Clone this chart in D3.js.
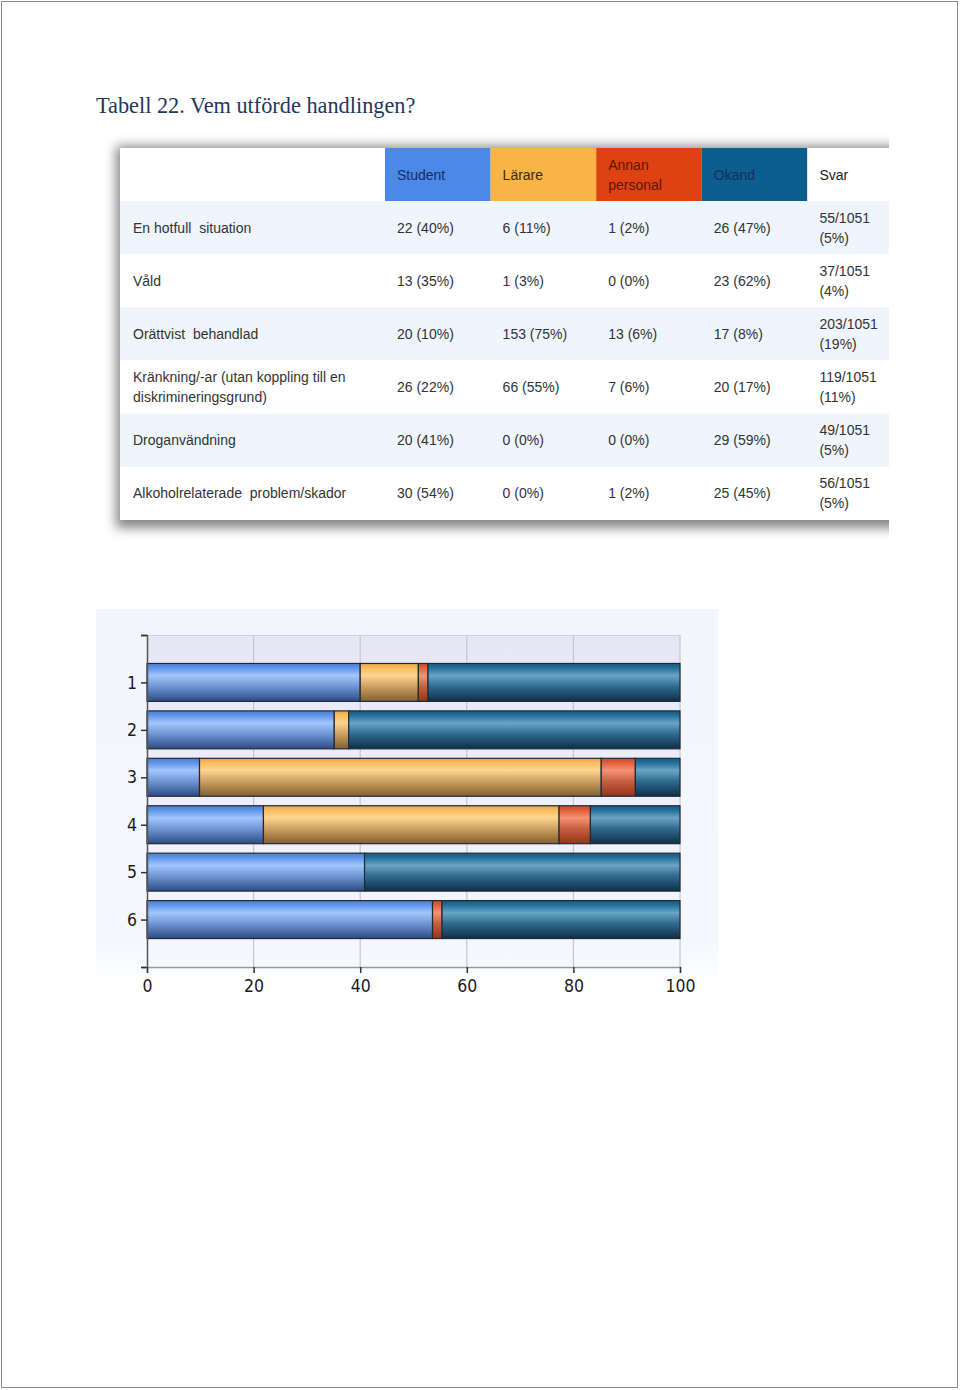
<!DOCTYPE html>
<html><head><meta charset="utf-8">
<script src="https://cdn.jsdelivr.net/npm/d3@7"></script>
<style>html,body{margin:0;padding:0;background:#fff}</style>
</head><body>
<script>
// ---- data ----
const categories = ["En hotfull  situation","Våld","Orättvist  behandlad",
  "Kränkning/-ar (utan koppling till en|diskrimineringsgrund)","Droganvändning","Alkoholrelaterade  problem/skador"];
const chartLabels = ["1","2","3","4","5","6"];
const seriesNames = ["Student","Lärare","Annan personal","Okand"];
const studentCounts = [22,13,20,26,20,30];
const studentPct    = [40,35,10,22,41,54];
const lararCounts   = [6,1,153,66,0,0];
const lararPct      = [11,3,75,55,0,0];
const annanCounts   = [1,0,13,7,0,1];
const annanPct      = [2,0,6,6,0,2];
const okandCounts   = [26,23,17,20,29,25];
const okandPct      = [47,62,8,17,59,45];
const svarCounts    = ["55/1051","37/1051","203/1051","119/1051","49/1051","56/1051"];
const svarPct       = [5,4,19,11,5,5];
const xTicks = [0,20,40,60,80,100];

const W=960,H=1390;
const svg=d3.select("body").append("svg").attr("width",W).attr("height",H);
const defs=svg.append("defs");
svg.append("rect").attr("width",W).attr("height",H).attr("fill","#fff");
svg.append("rect").attr("x",1.5).attr("y",1.5).attr("width",956).attr("height",1386)
  .attr("fill","none").attr("stroke","#8a8a8a").attr("stroke-width",1);

// title
svg.append("text").attr("x",96).attr("y",113).text("Tabell 22. Vem utförde handlingen?")
  .attr("font-family","Liberation Serif, DejaVu Serif, serif").attr("font-size",22.3).attr("fill","#22385a");

// ---- table ----
const colKeys=["Student","Lärare","Annan personal","Okand","Svar"];
const colX=d3.scaleBand().domain(colKeys).range([385,913]);
const rowY=d3.scaleBand().domain(d3.range(6)).range([201,520]);
const tLeft=120,tRight=889,tTop=148,tBot=520;
defs.append("clipPath").attr("id","tclip").append("rect").attr("x",0).attr("y",0).attr("width",tRight).attr("height",600);
defs.append("filter").attr("id","shadow").attr("x","-10%").attr("y","-10%").attr("width","120%").attr("height","130%")
  .append("feGaussianBlur").attr("stdDeviation",6);
const tg=svg.append("g").attr("clip-path","url(#tclip)");
tg.append("rect").attr("x",tLeft-4).attr("y",tTop-2).attr("width",tRight-tLeft+40).attr("height",tBot-tTop+10)
  .attr("fill","#707070").attr("filter","url(#shadow)").attr("opacity",0.85);
tg.append("rect").attr("x",tLeft).attr("y",tTop).attr("width",tRight-tLeft+30).attr("height",tBot-tTop).attr("fill","#fff");
tg.selectAll("rect.rowbg").data(d3.range(6)).join("rect").attr("class","rowbg")
  .attr("x",tLeft).attr("y",d=>rowY(d)).attr("width",tRight-tLeft).attr("height",rowY.bandwidth())
  .attr("fill",d=>d%2===0?"#eef5fd":"#ffffff");
const headFill={"Student":"#4a89e5","Lärare":"#f8b445","Annan personal":"#de4212","Okand":"#0b5e8d","Svar":"#ffffff"};
const headText={"Student":"#1b2b60","Lärare":"#3b2a10","Annan personal":"#5a1600","Okand":"#14325a","Svar":"#222"};
tg.selectAll("rect.head").data(colKeys).join("rect").attr("class","head")
  .attr("x",d=>colX(d)).attr("y",tTop).attr("width",colX.bandwidth()).attr("height",201-tTop)
  .attr("fill",d=>headFill[d]);
const font="Liberation Sans, Arial, sans-serif";
colKeys.forEach(k=>{
  const lines=k==="Annan personal"?["Annan","personal"]:[k];
  const t=tg.append("text").attr("font-family",font).attr("font-size",14).attr("fill",headText[k]);
  lines.forEach((l,i)=>t.append("tspan").attr("x",colX(k)+12)
    .attr("y",(lines.length===1?180:170)+i*20).text(l));
});
const cells=[studentCounts.map((c,i)=>`${c} (${studentPct[i]}%)`),
  lararCounts.map((c,i)=>`${c} (${lararPct[i]}%)`),
  annanCounts.map((c,i)=>`${c} (${annanPct[i]}%)`),
  okandCounts.map((c,i)=>`${c} (${okandPct[i]}%)`)];
categories.forEach((cat,r)=>{
  const cy=rowY(r)+rowY.bandwidth()/2;
  const lines=cat.split("|");
  const t=tg.append("text").attr("font-family",font).attr("font-size",14).attr("fill","#333")
    .attr("xml:space","preserve").style("white-space","pre");
  lines.forEach((l,i)=>t.append("tspan").attr("x",133).attr("y",cy+5+(i-(lines.length-1)/2)*20).text(l));
  cells.forEach((col,c)=>{
    tg.append("text").attr("x",colX(colKeys[c])+12).attr("y",cy+5).text(col[r])
      .attr("font-family",font).attr("font-size",14).attr("fill","#333");
  });
  const st=tg.append("text").attr("font-family",font).attr("font-size",14).attr("fill","#333");
  [svarCounts[r],`(${svarPct[r]}%)`].forEach((l,i)=>st.append("tspan").attr("x",colX("Svar")+12).attr("y",cy-5+i*20).text(l));
});

// ---- chart ----
const panel=defs.append("linearGradient").attr("id","panel").attr("x1",0).attr("y1",0).attr("x2",0).attr("y2",1);
panel.append("stop").attr("offset","0").attr("stop-color","#f2f6fc");
panel.append("stop").attr("offset","0.9").attr("stop-color","#f4f8fd");
panel.append("stop").attr("offset","1").attr("stop-color","#ffffff");
svg.append("rect").attr("x",96).attr("y",609).attr("width",622).attr("height",375).attr("fill","url(#panel)");

const x=d3.scaleLinear().domain([0,100]).range([147,680]);
const y=d3.scaleLinear().domain([0,7]).range([635,967]);
const plotBg=defs.append("linearGradient").attr("id","plotbg").attr("x1",0).attr("y1",0).attr("x2",0).attr("y2",1);
plotBg.append("stop").attr("offset","0").attr("stop-color","#e6e6f6");
plotBg.append("stop").attr("offset","1").attr("stop-color","#f6f8fd");
svg.append("rect").attr("x",x(0)).attr("y",y(0)).attr("width",x(100)-x(0)).attr("height",y(7)-y(0)).attr("fill","url(#plotbg)");
svg.append("g").selectAll("line").data([20,40,60,80,100]).join("line")
  .attr("x1",d=>x(d)).attr("x2",d=>x(d)).attr("y1",y(0)).attr("y2",y(7))
  .attr("stroke","#c6c6d2").attr("stroke-width",1.2);
svg.append("line").attr("x1",x(0)).attr("x2",x(100)).attr("y1",y(0)+0.5).attr("y2",y(0)+0.5).attr("stroke","#cfcfdc");

const grads=[
  {id:"g0",stops:["#4f7fcf","#5f95ea","#a3c6fb","#7097d6","#2d4b82"]},
  {id:"g1",stops:["#e7a54a","#fbbd5e","#fdd591","#cfa062","#80602f"]},
  {id:"g2",stops:["#c84a26","#e2603a","#f39476","#c8603e","#93351a"]},
  {id:"g3",stops:["#195a80","#24709a","#6aa5c6","#2f6c90","#0f2f48"]}];
grads.forEach(g=>{
  const lg=defs.append("linearGradient").attr("id",g.id).attr("x1",0).attr("y1",0).attr("x2",0).attr("y2",1);
  [0,0.12,0.32,0.6,1].forEach((o,i)=>lg.append("stop").attr("offset",o).attr("stop-color",g.stops[i]));
});

const rows=chartLabels.map((l,i)=>({label:l,"Student":studentCounts[i],"Lärare":lararCounts[i],
  "Annan personal":annanCounts[i],"Okand":okandCounts[i]}));
const stacked=d3.stack().keys(seriesNames).offset(d3.stackOffsetExpand)(rows);
const bh=(y(1)-y(0))*0.8;
svg.append("g").selectAll("g").data(stacked).join("g").attr("fill",(d,i)=>`url(#g${i})`)
  .selectAll("rect").data(d=>d.map((v,i)=>({v,i}))).join("rect")
  .filter(d=>d.v[1]-d.v[0]>0)
  .attr("x",d=>x(d.v[0]*100)).attr("width",d=>x(d.v[1]*100)-x(d.v[0]*100))
  .attr("y",d=>y(d.i+1)-bh/2).attr("height",bh)
  .attr("stroke","#1f2a3a").attr("stroke-width",1.2);

const tickFont="DejaVu Sans Condensed, DejaVu Sans, sans-serif";
const yAxis=svg.append("g").attr("transform",`translate(${x(0)},0)`)
  .call(d3.axisLeft(y).tickValues(d3.range(8)).tickSize(6).tickPadding(4)
    .tickFormat(d=>(d>=1&&d<=6)?chartLabels[d-1]:""));
const xAxis=svg.append("g").attr("transform",`translate(0,${y(7)})`)
  .call(d3.axisBottom(x).tickValues(xTicks).tickSize(6).tickPadding(7).tickFormat(d3.format("d")));
[yAxis,xAxis].forEach(a=>{
  a.selectAll("text").attr("font-family",tickFont).attr("font-size",17.5).attr("fill","#1a1a1a");
  a.selectAll("line").attr("stroke","#333").attr("stroke-width",1.5);
});
yAxis.select(".domain").attr("stroke","#555").attr("stroke-width",1.5);
xAxis.select(".domain").attr("stroke","#999").attr("stroke-width",1.5);
</script>
</body></html>
